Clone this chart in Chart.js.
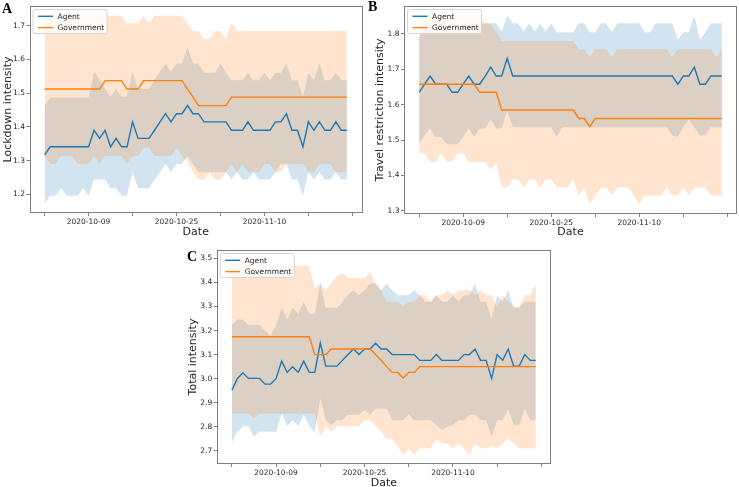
<!DOCTYPE html>
<html>
<head>
<meta charset="utf-8">
<script src="https://cdn.jsdelivr.net/npm/chart.js@4.4.1/dist/chart.umd.min.js"></script>
<style>
  html, body { margin: 0; padding: 0; background: #fff; width: 739px; height: 487px; overflow: hidden; }
  .panel { position: absolute; }
  .panel canvas { display: block; }
  .letter { position: absolute; font-family: "Liberation Serif", "DejaVu Serif", serif; font-weight: bold; font-size: 14px; line-height: 1; color: #000; }
</style>
</head>
<body>
<div class="panel" style="left:0px;top:0px;"><canvas id="chartA" width="370" height="240"></canvas></div>
<div class="panel" style="left:366px;top:0px;"><canvas id="chartB" width="373" height="240"></canvas></div>
<div class="panel" style="left:180px;top:240px;"><canvas id="chartC" width="390" height="250"></canvas></div>
<div class="letter" style="left:2px;top:1.6px;">A</div>
<div class="letter" style="left:368px;top:-0.5px;">B</div>
<div class="letter" style="left:187px;top:249.5px;">C</div>
<script>
// ---- categories: one point per day, day 0 = 2020-10-01 ----
const startDate = '2020-10-01';
const xTickDays = [0, 8, 16, 24, 32, 40, 48, 56];
const xTickLabels = ['', '2020-10-09', '', '2020-10-25', '', '2020-11-10', '', ''];
const seriesNames = ['Agent', 'Government'];

// ---- Panel A: Lockdown intensity ----
const yTicksA = [1.2, 1.3, 1.4, 1.5, 1.6, 1.7];
const agentMeanA = [1.317,1.341,1.341,1.341,1.341,1.341,1.341,1.341,
  1.341,1.390,1.366,1.390,1.341,1.366,1.341,1.341,
  1.415,1.366,1.366,1.366,1.390,1.415,1.439,1.415,
  1.439,1.439,1.463,1.439,1.439,1.415,1.415,1.415,
  1.415,1.415,1.390,1.390,1.390,1.415,1.390,1.390,
  1.390,1.390,1.415,1.415,1.439,1.390,1.390,1.341,
  1.415,1.390,1.415,1.390,1.390,1.415,1.390,1.390];
const agentLowA = [1.173,1.196,1.196,1.218,1.196,1.196,1.196,1.218,
  1.196,1.244,1.244,1.244,1.218,1.218,1.196,1.196,
  1.266,1.218,1.218,1.218,1.244,1.266,1.290,1.266,
  1.290,1.290,1.314,1.290,1.266,1.266,1.266,1.266,
  1.266,1.266,1.244,1.266,1.244,1.244,1.266,1.244,
  1.244,1.244,1.266,1.290,1.290,1.244,1.244,1.196,
  1.266,1.244,1.266,1.244,1.244,1.266,1.244,1.244];
const agentHighA = [1.463,1.487,1.487,1.487,1.487,1.487,1.487,1.487,
  1.487,1.564,1.540,1.513,1.490,1.513,1.490,1.490,
  1.564,1.513,1.513,1.513,1.540,1.564,1.588,1.564,
  1.588,1.588,1.636,1.588,1.588,1.560,1.560,1.560,
  1.588,1.560,1.538,1.538,1.538,1.560,1.538,1.538,
  1.560,1.538,1.560,1.560,1.588,1.538,1.538,1.490,
  1.560,1.538,1.588,1.538,1.538,1.560,1.538,1.538];
const govMeanA = [1.512,1.512,1.512,1.512,1.512,1.512,1.512,1.512,
  1.512,1.512,1.512,1.537,1.537,1.537,1.537,1.512,
  1.512,1.512,1.537,1.537,1.537,1.537,1.537,1.537,
  1.537,1.537,1.512,1.488,1.463,1.463,1.463,1.463,
  1.463,1.463,1.488,1.488,1.488,1.488,1.488,1.488,
  1.488,1.488,1.488,1.488,1.488,1.488,1.488,1.488,
  1.488,1.488,1.488,1.488,1.488,1.488,1.488,1.488];
const govLowA = [1.314,1.290,1.290,1.314,1.314,1.314,1.290,1.290,
  1.290,1.314,1.290,1.314,1.314,1.314,1.314,1.290,
  1.314,1.314,1.339,1.339,1.314,1.314,1.314,1.314,
  1.339,1.314,1.300,1.266,1.244,1.244,1.266,1.244,
  1.244,1.266,1.290,1.266,1.290,1.266,1.266,1.266,
  1.290,1.290,1.266,1.266,1.290,1.290,1.290,1.290,
  1.266,1.266,1.290,1.290,1.290,1.266,1.266,1.266];
const govHighA = [1.729,1.729,1.729,1.729,1.729,1.729,1.729,1.729,
  1.729,1.729,1.729,1.729,1.729,1.729,1.729,1.707,
  1.707,1.707,1.729,1.707,1.729,1.729,1.729,1.729,
  1.729,1.729,1.707,1.684,1.684,1.660,1.660,1.684,
  1.684,1.660,1.707,1.684,1.684,1.684,1.684,1.684,
  1.684,1.684,1.684,1.684,1.684,1.684,1.684,1.684,
  1.684,1.684,1.684,1.684,1.684,1.684,1.684,1.684];

// ---- Panel B: Travel restriction intensity ----
const yTicksB = [1.3, 1.4, 1.5, 1.6, 1.7, 1.8];
const agentMeanB = [1.635,1.658,1.681,1.658,1.658,1.658,1.635,1.635,
  1.658,1.681,1.658,1.658,1.681,1.706,1.681,1.681,
  1.731,1.681,1.681,1.681,1.681,1.681,1.681,1.681,
  1.681,1.681,1.681,1.681,1.681,1.681,1.681,1.681,
  1.681,1.681,1.681,1.681,1.681,1.681,1.681,1.681,
  1.681,1.681,1.681,1.681,1.681,1.681,1.681,1.658,
  1.681,1.681,1.706,1.658,1.658,1.681,1.681,1.681];
const agentLowB = [1.488,1.513,1.533,1.509,1.509,1.488,1.488,1.488,
  1.509,1.533,1.509,1.533,1.533,1.559,1.533,1.533,
  1.582,1.536,1.536,1.536,1.536,1.536,1.536,1.536,
  1.536,1.509,1.536,1.536,1.536,1.536,1.536,1.536,
  1.536,1.536,1.536,1.536,1.536,1.536,1.536,1.536,
  1.536,1.536,1.536,1.536,1.536,1.536,1.513,1.509,
  1.536,1.559,1.536,1.513,1.513,1.536,1.536,1.536];
const agentHighB = [1.789,1.830,1.830,1.830,1.830,1.807,1.807,1.807,
  1.830,1.830,1.830,1.830,1.830,1.830,1.830,1.807,
  1.853,1.830,1.830,1.807,1.830,1.807,1.830,1.807,
  1.830,1.805,1.805,1.805,1.805,1.830,1.830,1.805,
  1.805,1.830,1.830,1.805,1.830,1.830,1.830,1.830,
  1.830,1.805,1.805,1.830,1.830,1.830,1.830,1.784,
  1.805,1.805,1.853,1.784,1.805,1.830,1.830,1.830];
const govMeanB = [1.658,1.658,1.658,1.658,1.658,1.658,1.658,1.658,
  1.658,1.658,1.658,1.635,1.635,1.635,1.635,1.585,
  1.585,1.585,1.585,1.585,1.585,1.585,1.585,1.585,
  1.585,1.585,1.585,1.585,1.585,1.561,1.561,1.538,
  1.561,1.561,1.561,1.561,1.561,1.561,1.561,1.561,
  1.561,1.561,1.561,1.561,1.561,1.561,1.561,1.561,
  1.561,1.561,1.561,1.561,1.561,1.561,1.561,1.561];
const govLowB = [1.463,1.463,1.438,1.438,1.463,1.438,1.438,1.463,
  1.463,1.438,1.438,1.438,1.438,1.417,1.438,1.366,
  1.366,1.389,1.389,1.366,1.389,1.389,1.366,1.389,
  1.389,1.366,1.366,1.366,1.389,1.343,1.366,1.318,
  1.343,1.366,1.366,1.343,1.366,1.366,1.366,1.343,
  1.318,1.343,1.343,1.343,1.343,1.366,1.343,1.343,
  1.366,1.343,1.366,1.366,1.366,1.343,1.343,1.343];
const govHighB = [1.830,1.853,1.853,1.853,1.853,1.830,1.830,1.853,
  1.853,1.853,1.853,1.853,1.830,1.830,1.805,1.780,
  1.780,1.780,1.780,1.780,1.780,1.780,1.780,1.780,
  1.780,1.780,1.780,1.780,1.780,1.757,1.757,1.734,
  1.757,1.757,1.757,1.734,1.757,1.757,1.757,1.757,
  1.757,1.757,1.757,1.757,1.757,1.757,1.734,1.757,
  1.757,1.757,1.757,1.757,1.757,1.757,1.734,1.757];

// ---- Panel C: Total intensity ----
const yTicksC = [2.7, 2.8, 2.9, 3.0, 3.1, 3.2, 3.3, 3.4, 3.5];
const agentMeanC = [2.952,3.001,3.024,3.001,3.001,3.001,2.977,2.977,
  3.001,3.073,3.026,3.049,3.026,3.073,3.026,3.026,
  3.149,3.052,3.052,3.052,3.076,3.100,3.123,3.100,
  3.123,3.123,3.147,3.123,3.123,3.100,3.100,3.100,
  3.100,3.100,3.076,3.076,3.076,3.100,3.076,3.076,
  3.076,3.076,3.100,3.100,3.123,3.076,3.076,3.001,
  3.100,3.076,3.123,3.052,3.052,3.100,3.076,3.076];
const agentLowC = [2.737,2.779,2.802,2.802,2.758,2.779,2.779,2.779,
  2.779,2.855,2.802,2.827,2.802,2.850,2.802,2.779,
  2.918,2.827,2.807,2.827,2.827,2.850,2.850,2.850,
  2.870,2.850,2.875,2.875,2.875,2.827,2.827,2.827,
  2.852,2.827,2.827,2.827,2.827,2.807,2.786,2.800,
  2.807,2.827,2.827,2.850,2.850,2.827,2.827,2.758,
  2.827,2.827,2.875,2.807,2.807,2.875,2.827,2.827];
const agentHighC = [3.223,3.246,3.246,3.223,3.223,3.223,3.200,3.177,
  3.223,3.295,3.246,3.295,3.270,3.320,3.270,3.270,
  3.396,3.295,3.295,3.295,3.320,3.347,3.368,3.347,
  3.368,3.396,3.396,3.368,3.396,3.368,3.347,3.347,
  3.347,3.368,3.347,3.320,3.320,3.347,3.320,3.320,
  3.347,3.320,3.347,3.347,3.396,3.320,3.320,3.246,
  3.347,3.320,3.368,3.295,3.295,3.320,3.320,3.320];
const govMeanC = [3.174,3.174,3.174,3.174,3.174,3.174,3.174,3.174,
  3.174,3.174,3.174,3.174,3.174,3.174,3.174,3.100,
  3.100,3.100,3.123,3.123,3.123,3.123,3.123,3.123,
  3.123,3.123,3.100,3.076,3.050,3.026,3.026,3.003,
  3.026,3.026,3.050,3.050,3.050,3.050,3.050,3.050,
  3.050,3.050,3.050,3.050,3.050,3.050,3.050,3.050,
  3.050,3.050,3.050,3.050,3.050,3.050,3.050,3.050];
const govLowC = [2.855,2.855,2.855,2.855,2.835,2.855,2.855,2.855,
  2.855,2.855,2.855,2.855,2.855,2.855,2.855,2.855,
  2.758,2.802,2.779,2.802,2.802,2.802,2.802,2.802,
  2.827,2.827,2.802,2.779,2.750,2.750,2.720,2.682,
  2.710,2.682,2.710,2.710,2.710,2.751,2.730,2.730,
  2.710,2.730,2.710,2.682,2.730,2.710,2.710,2.720,
  2.710,2.730,2.751,2.730,2.710,2.710,2.710,2.710];
const govHighC = [3.495,3.495,3.495,3.495,3.495,3.470,3.470,3.470,
  3.470,3.470,3.470,3.470,3.470,3.470,3.470,3.375,
  3.396,3.368,3.400,3.425,3.440,3.417,3.417,3.417,
  3.417,3.440,3.396,3.368,3.320,3.320,3.320,3.300,
  3.320,3.320,3.347,3.347,3.320,3.347,3.347,3.368,
  3.347,3.368,3.368,3.368,3.347,3.368,3.347,3.347,
  3.295,3.347,3.320,3.300,3.300,3.347,3.347,3.396];

// ---- styling ----
const BLUE = '#1f77b4', ORANGE = '#ff7f0e';
const BLUE_FILL = 'rgba(31,119,180,0.2)', ORANGE_FILL = 'rgba(255,127,14,0.2)';
const FONT = 'DejaVu Sans';
const TEXT = '#262626';
const FRAME = '#808080';

const framePlugin = {
  id: 'frameAndLegend',
  afterDatasetsDraw(chart) {
    const { ctx, chartArea: ca } = chart;
    ctx.save();
    ctx.strokeStyle = FRAME;
    ctx.lineWidth = 1;
    ctx.strokeRect(Math.round(ca.left) + 0.5, Math.round(ca.top) + 0.5,
                   Math.round(ca.right - ca.left) - 1, Math.round(ca.bottom - ca.top) - 1);
    // legend box (upper left, inside axes)
    const bx = ca.left + 3.5, by = ca.top + 3.5, bw = 74, bh = 24;
    ctx.beginPath();
    if (ctx.roundRect) ctx.roundRect(bx, by, bw, bh, 2); else ctx.rect(bx, by, bw, bh);
    ctx.fillStyle = 'rgba(255,255,255,0.8)';
    ctx.fill();
    ctx.strokeStyle = '#d6d6d6';
    ctx.lineWidth = 1;
    ctx.stroke();
    const rows = [{ c: BLUE, t: seriesNames[0] }, { c: ORANGE, t: seriesNames[1] }];
    ctx.font = '7.5px "' + FONT + '"';
    ctx.textBaseline = 'middle';
    ctx.textAlign = 'left';
    rows.forEach((r, i) => {
      const y = by + 6.8 + i * 11.3;
      ctx.beginPath();
      ctx.moveTo(bx + 5, y);
      ctx.lineTo(bx + 20, y);
      ctx.strokeStyle = r.c;
      ctx.lineWidth = 1.4;
      ctx.stroke();
      ctx.fillStyle = TEXT;
      ctx.fillText(r.t, bx + 24.5, y + 0.5);
    });
    ctx.restore();
  }
};

function makeChart(id, s) {
  const days = s.agentMean.map((_, i) => i);
  const band = (data, color, fill, order) => ({
    data, borderColor: 'transparent', borderWidth: 0, pointRadius: 0,
    backgroundColor: color, fill, order, tension: 0
  });
  return new Chart(document.getElementById(id), {
    type: 'line',
    data: {
      labels: days,
      datasets: [
        band(s.agentLow, 'transparent', false, 4),
        band(s.agentHigh, BLUE_FILL, '-1', 4),
        band(s.govLow, 'transparent', false, 3),
        band(s.govHigh, ORANGE_FILL, '-1', 3),
        { label: seriesNames[0], data: s.agentMean, borderColor: BLUE, borderWidth: 1.4,
          pointRadius: 0, fill: false, order: 2, tension: 0 },
        { label: seriesNames[1], data: s.govMean, borderColor: ORANGE, borderWidth: 1.4,
          pointRadius: 0, fill: false, order: 1, tension: 0 }
      ]
    },
    options: {
      responsive: false,
      animation: false,
      events: [],
      layout: { padding: { left: 0, right: s.padR, top: s.padT, bottom: 0 } },
      plugins: { legend: { display: false }, tooltip: { enabled: false } },
      scales: {
        x: {
          type: 'linear', min: -2.75, max: 57.75,
          afterBuildTicks: (sc) => { sc.ticks = xTickDays.map(v => ({ value: v })); },
          afterFit: (sc) => { sc.height = s.xAxisH; },
          grid: { drawOnChartArea: false, drawTicks: true, tickLength: 3, color: FRAME, tickColor: FRAME },
          border: { display: false },
          ticks: {
            autoSkip: false, maxRotation: 0, padding: 2, color: TEXT,
            font: { family: FONT, size: 7.5 },
            callback: (v) => { const k = xTickDays.indexOf(v); return k >= 0 ? xTickLabels[k] : ''; }
          },
          title: { display: true, text: 'Date', color: TEXT, font: { family: FONT, size: 11 },
                   padding: { top: 0, bottom: s.dateTitlePad } }
        },
        y: {
          type: 'linear', min: s.yMin, max: s.yMax,
          afterBuildTicks: (sc) => { sc.ticks = s.yTicks.map(v => ({ value: v })); },
          afterFit: (sc) => { sc.width = s.yAxisW; },
          grid: { drawOnChartArea: false, drawTicks: true, tickLength: 3, color: FRAME, tickColor: FRAME },
          border: { display: false },
          ticks: { padding: 1.5, color: TEXT, font: { family: FONT, size: 7.5 },
                   callback: (v) => Number(v).toFixed(1) },
          title: { display: true, text: s.yTitle, color: TEXT, font: { family: FONT, size: 11 },
                   padding: { top: s.yTitlePad, bottom: 0 } }
        }
      }
    },
    plugins: [framePlugin]
  });
}

makeChart('chartA', {
  agentMean: agentMeanA, agentLow: agentLowA, agentHigh: agentHighA,
  govMean: govMeanA, govLow: govLowA, govHigh: govHighA,
  yTicks: yTicksA, yMin: 1.145, yMax: 1.758, yTitle: 'Lockdown intensity',
  yAxisW: 29.5, padR: 8, padT: 1, xAxisH: 27, dateTitlePad: 1.7, yTitlePad: 1.4
});
makeChart('chartB', {
  agentMean: agentMeanB, agentLow: agentLowB, agentHigh: agentHighB,
  govMean: govMeanB, govLow: govLowB, govHigh: govHighB,
  yTicks: yTicksB, yMin: 1.291, yMax: 1.879, yTitle: 'Travel restriction intensity',
  yAxisW: 38, padR: 2, padT: 1, xAxisH: 26, dateTitlePad: 1.4, yTitlePad: 7.6
});
makeChart('chartC', {
  agentMean: agentMeanC, agentLow: agentLowC, agentHigh: agentHighC,
  govMean: govMeanC, govLow: govLowC, govHigh: govHighC,
  yTicks: yTicksC, yMin: 2.645, yMax: 3.535, yTitle: 'Total intensity',
  yAxisW: 36.7, padR: 19, padT: 10, xAxisH: 26, dateTitlePad: 0.7, yTitlePad: 6.4
});
</script>
</body>
</html>
